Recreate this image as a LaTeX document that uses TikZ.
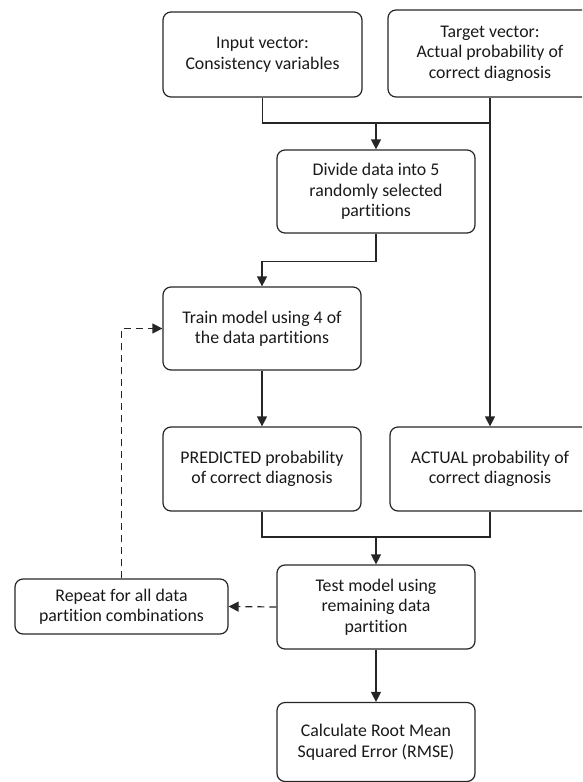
\documentclass[tikz,border=0pt]{standalone}
\usepackage{fontspec}
\setmainfont{Carlito}[RawFeature=-liga]
\usetikzlibrary{arrows.meta}
\newcommand\boxfont{\fontsize{17.8pt}{20.5pt}\selectfont}
\begin{document}
\begin{tikzpicture}[x=1pt,y=-1pt,
  box/.style={draw=black!85, line width=1.2pt, rounded corners=8pt, align=center,
    font=\boxfont, inner sep=0pt, text=black!90},
  conn/.style={line width=1.2pt, draw=black!85},
  arr/.style={conn, -{Triangle[width=10pt,length=10pt]}},
  darr/.style={arr, dash pattern=on 7pt off 5pt}]
\useasboundingbox (0,0) rectangle (582,782);
\clip (0,0) rectangle (582,782);
\node[box, minimum width=199, minimum height=85] (in) at (262.5,54.5) {Input vector:\\Consistency variables};
\node[box, minimum width=204, minimum height=87] (tg) at (490,53.5) {Target vector:\\Actual probability of\\correct diagnosis};
\node[box, minimum width=198, minimum height=83] (div) at (376,191.5) {Divide data into 5\\randomly selected\\partitions};
\node[box, minimum width=198, minimum height=83] (tr) at (262,328.5) {Train model using 4 of\\the data partitions};
\node[box, minimum width=198, minimum height=84] (pr) at (262,469) {PREDICTED probability\\of correct diagnosis};
\node[box, minimum width=200, minimum height=84] (act) at (490,469) {ACTUAL probability of\\correct diagnosis};
\node[box, minimum width=198, minimum height=84] (te) at (376,607) {Test model using\\remaining data\\partition};
\node[box, minimum width=213, minimum height=55] (rep) at (121.5,606.5) {Repeat for all data\\partition combinations};
\node[box, minimum width=198, minimum height=79] (rm) at (376,742) {Calculate Root Mean\\Squared Error (RMSE)};
\coordinate (j1) at (376,123);
\coordinate (j2) at (376,537);
\draw[arr] (tg.south) -- (act.north);
\draw[conn] (in.south) |- (tg.south |- j1);
\draw[arr] (j1) -- (div.north);
\draw[arr] (div.south) -- ++(0,28) -| (tr.north);
\draw[arr] (tr) -- (pr);
\draw[conn] (pr.south) |- (j2) -| (act.south);
\draw[arr] (j2) -- (te.north);
\draw[darr] (te.west) -- (rep.east);
\draw[darr] (rep.north) |- (tr.west);
\draw[arr] (te) -- (rm);
\end{tikzpicture}
\end{document}
